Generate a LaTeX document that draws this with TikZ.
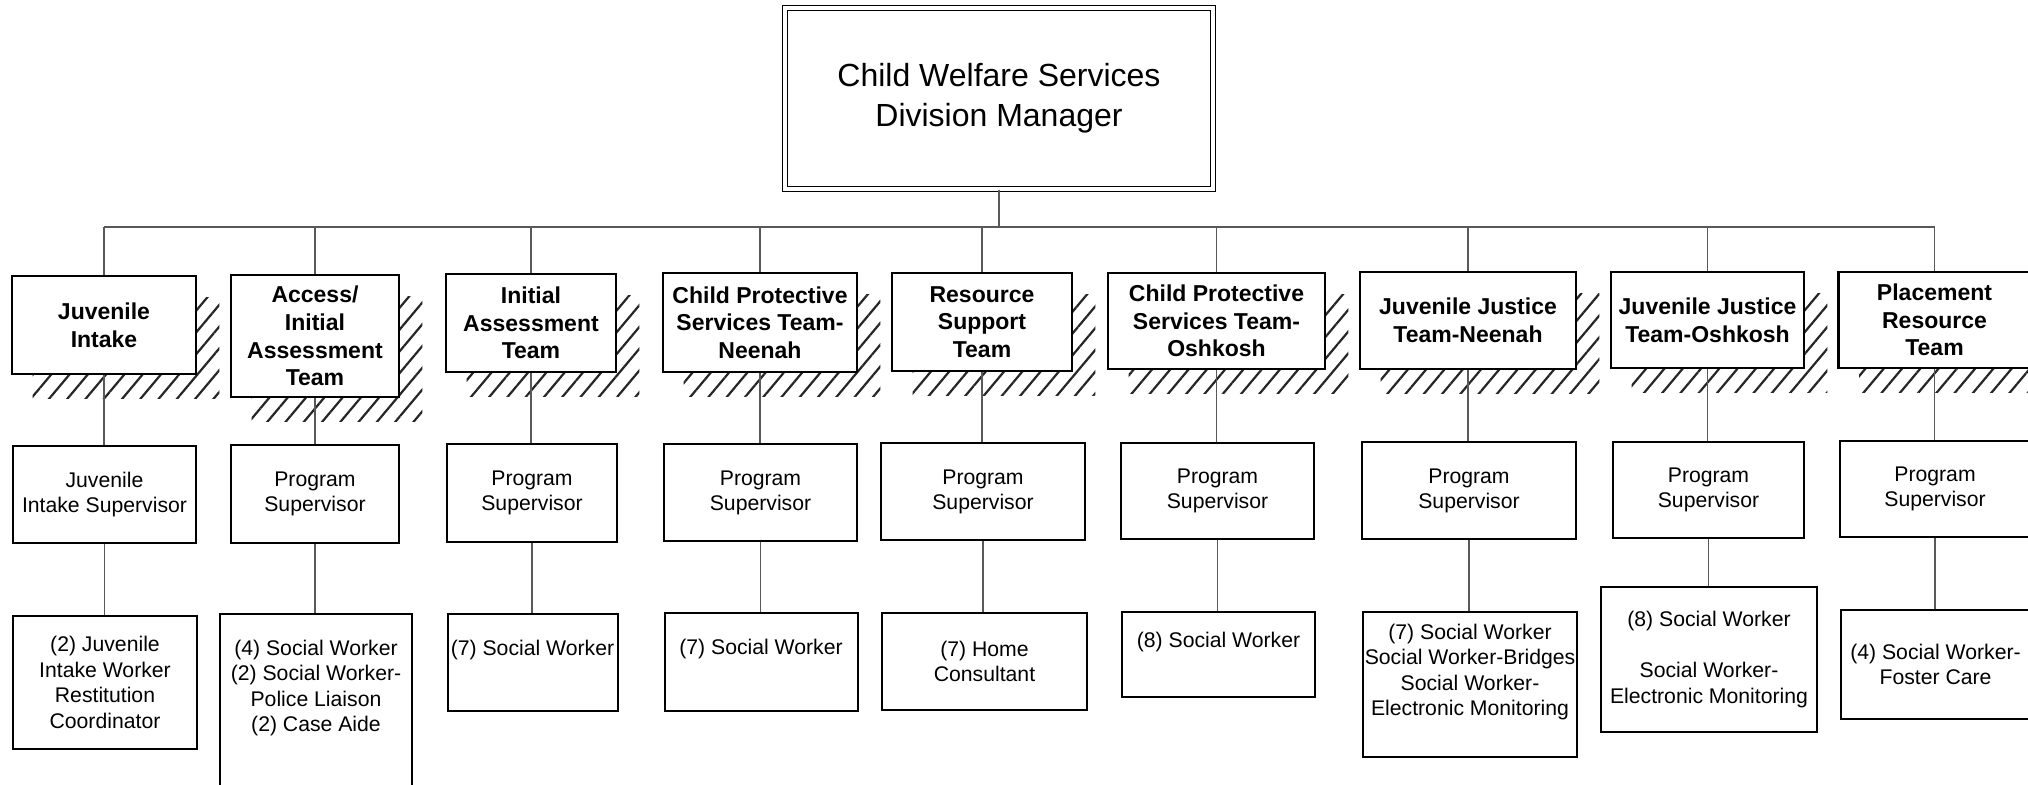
\documentclass[tikz,border=0pt]{standalone}
\usepackage{fontspec}
\setmainfont{Liberation Sans}
\usetikzlibrary{patterns.meta,backgrounds}
\tikzset{
 mgrbox/.style={draw, line width=0.7pt, double=white, double distance=1.6pt, fill=white, inner sep=0pt, align=center, font=\fontsize{16}{20}\selectfont},
 teambox/.style={draw, line width=1.3pt, fill=white, inner sep=0pt, align=center, font=\fontsize{11.5}{13.8}\selectfont\bfseries},
 psbox/.style={draw, line width=0.9pt, fill=white, inner sep=0pt, align=center, font=\fontsize{10.6}{12.6}\selectfont},
 staffbox/.style={draw, line width=0.9pt, fill=white, inner sep=0pt, align=center, font=\fontsize{10.6}{12.8}\selectfont},
 txt/.style={inner sep=0pt, align=center, font=\fontsize{10.6}{12.8}\selectfont},
 conn/.style={line width=0.6pt, draw=black!65},
 hatch/.style={pattern={Lines[angle=50,distance=7pt,line width=1.1pt]}, pattern color=black!85},
}
\begin{document}
\begin{tikzpicture}[x=0.5pt,y=-0.5pt]
\useasboundingbox (0,0) rectangle (2028,784);
% manager
\node[mgrbox, minimum width=214pt, minimum height=90.5pt] (mgr) at (999,98.5) {Child Welfare Services\\Division Manager};
\coordinate (bus) at (0,227);
% teams
\node[teambox, minimum width=92pt, minimum height=49pt] (ji) at (104,325) {Juvenile\\Intake};
\node[teambox, minimum width=84pt, minimum height=61pt] (acc) at (315,336) {Access/\\Initial\\Assessment\\Team};
\node[teambox, minimum width=85pt, minimum height=49pt] (ini) at (531,323) {Initial\\Assessment\\Team};
\node[teambox, minimum width=97pt, minimum height=49.5pt] (cpsn) at (760,322.5) {Child Protective\\Services Team-\\Neenah};
\node[teambox, minimum width=90pt, minimum height=49pt] (res) at (982,322) {Resource\\Support\\Team};
\node[teambox, minimum width=108.5pt, minimum height=48pt] (cpso) at (1216.5,321) {Child Protective\\Services Team-\\Oshkosh};
\node[teambox, minimum width=108pt, minimum height=48.5pt] (jjn) at (1468,320.5) {Juvenile Justice\\Team-Neenah};
\node[teambox, minimum width=96.5pt, minimum height=48pt] (jjo) at (1707.5,320) {Juvenile Justice\\Team-Oshkosh};
\node[teambox, minimum width=96pt, minimum height=48pt] (prt) at (1934.5,320) {Placement\\Resource\\Team};
% supervisors
\node[psbox, minimum width=91.5pt, minimum height=48.5pt] (jips) at (104.5,494.5) {Juvenile\\Intake Supervisor};
\node[psbox, minimum width=84pt, minimum height=49pt] (accps) at (315,494) {Program\\Supervisor};
\node[psbox, minimum width=85pt, minimum height=49pt] (inips) at (532,493) {Program\\Supervisor};
\node[psbox, minimum width=96.5pt, minimum height=48.5pt] (cpsnps) at (760.5,492.5) {Program\\Supervisor};
\node[psbox, minimum width=102pt, minimum height=48.5pt] (resps) at (983,491.5) {Program\\Supervisor};
\node[psbox, minimum width=96.5pt, minimum height=48pt] (cpsops) at (1217.5,491) {Program\\Supervisor};
\node[psbox, minimum width=107pt, minimum height=48.5pt] (jjnps) at (1469,490.5) {Program\\Supervisor};
\node[psbox, minimum width=95.5pt, minimum height=48pt] (jjops) at (1708.5,490) {Program\\Supervisor};
\node[psbox, minimum width=95pt, minimum height=48pt] (prtps) at (1935,489) {Program\\Supervisor};
% staff
\node[staffbox, minimum width=92pt, minimum height=66.5pt] (jis) at (105,682.5) {(2) Juvenile\\Intake Worker\\Restitution\\Coordinator};
\node[staffbox, minimum width=96pt, minimum height=87pt] (accs) at (316,701) {};
\node[txt] (accst) at (316,688) {(4) Social Worker\\(2) Social Worker-\\Police Liaison\\(2) Case Aide};
\node[staffbox, minimum width=85pt, minimum height=48.5pt] (inis) at (533,662.5) {};
\node[txt] (inist) at (532.5,650) {(7) Social Worker};
\node[staffbox, minimum width=96.5pt, minimum height=49pt] (cpsns) at (761.5,662) {};
\node[txt] (cpsnst) at (761,649) {(7) Social Worker};
\node[staffbox, minimum width=102.5pt, minimum height=48.5pt] (ress) at (984.5,661.5) {(7) Home\\Consultant};
\node[staffbox, minimum width=96.5pt, minimum height=42.5pt] (cpsos) at (1218.5,654.5) {};
\node[txt] (cpsost) at (1218.5,641.5) {(8) Social Worker};
\node[staffbox, minimum width=107pt, minimum height=72.5pt] (jjns) at (1470,684.5) {};
\node[txt] (jjnst) at (1470,672) {(7) Social Worker\\Social Worker-Bridges\\Social Worker-\\Electronic Monitoring};
\node[staffbox, minimum width=108pt, minimum height=72.5pt] (jjos) at (1709,659.5) {(8) Social Worker\\[12.8pt]Social Worker-\\Electronic Monitoring};
\node[staffbox, minimum width=94.5pt, minimum height=54.5pt] (prts) at (1935.5,664.5) {(4) Social Worker-\\Foster Care};
% shadows
\begin{scope}[on background layer]
\foreach \t in {ji,acc,ini,cpsn,res,cpso,jjn,jjo,prt}
  \fill[hatch] ([shift={(11pt,-11.5pt)}]\t.north west) rectangle ([shift={(11pt,-11.5pt)}]\t.south east);
\end{scope}
% connectors
\draw[conn] (mgr.south) -- (mgr.south |- bus);
\draw[conn] (ji.north |- bus) -- (prt.north |- bus);
\foreach \t/\p/\s in {ji/jips/jis,acc/accps/accs,ini/inips/inis,cpsn/cpsnps/cpsns,res/resps/ress,cpso/cpsops/cpsos,jjn/jjnps/jjns,jjo/jjops/jjos,prt/prtps/prts}{
  \draw[conn] (\t.north) -- (\t.north |- bus);
  \draw[conn] (\t.south) -- (\t.south |- \p.north);
  \draw[conn] (\p.south) -- (\p.south |- \s.north);
}
\end{tikzpicture}
\end{document}
